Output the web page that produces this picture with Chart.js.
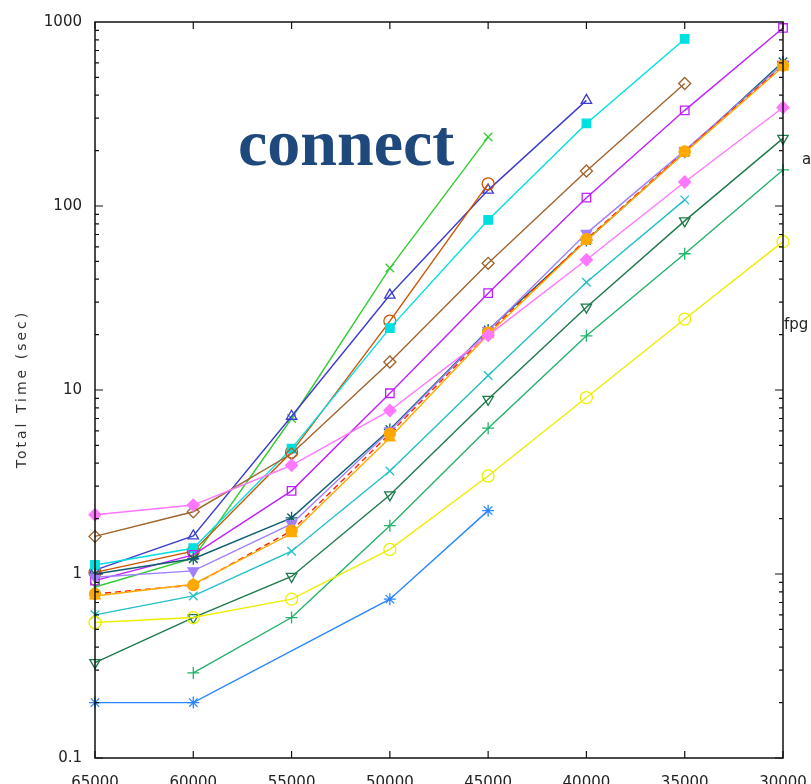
<!DOCTYPE html>
<html>
<head>
<meta charset="utf-8">
<script src="https://cdn.jsdelivr.net/npm/chart.js@4/dist/chart.umd.min.js"></script>
<style>
  html, body { margin: 0; padding: 0; background: #fff; overflow: hidden; }
  #wrap { width: 830px; height: 800px; }
</style>
</head>
<body>
<div id="wrap"><canvas id="grafico" width="830" height="800"></canvas></div>
<script>
const categorias = ["65000", "60000", "55000", "50000", "45000", "40000", "35000", "30000"];
const marcasY = [0.1, 1, 10, 100, 1000];

const verdeX = [0.85, 1.22, 7.0, 46, 237, null, null, null];
const azulTriangulo = [1.05, 1.61, 7.2, 32.8, 122, 375, null, null];
const laranjaSol = [1.02, 1.33, 4.6, 23.7, 132, null, null, null];
const cianoQuadrado = [1.12, 1.38, 4.8, 21.7, 84, 281, 809, null];
const marromLosango = [1.6, 2.18, 4.5, 14.2, 48.8, 155, 463, null];
const magentaQuadrado = [0.92, 1.27, 2.83, 9.6, 33.6, 111, 331, 928];
const tealEstrela = [1.0, 1.21, 2.02, 6.1, 21.2, 65, 196, 608];
const lilas = [0.96, 1.04, 1.87, 6.0, 21, 71, 200, 590];
const vermelho = [0.78, 0.87, 1.72, 5.8, 20.5, 66, 198, 580];
const laranja = [0.76, 0.88, 1.66, 5.5, 20, 65, 195, 571];
const rosa = [2.1, 2.37, 3.9, 7.74, 19.8, 51, 135, 343];
const tealX = [0.6, 0.76, 1.33, 3.63, 12, 38.5, 108, null];
const verdeEscuro = [0.33, 0.58, 0.97, 2.69, 8.9, 28.2, 83, 233];
const verdeMais = [null, 0.29, 0.58, 1.83, 6.2, 19.7, 55, 157];
const amarelo = [0.545, 0.58, 0.73, 1.36, 3.41, 9.1, 24.3, 64];
const azulEstrela = [0.2, 0.2, null, 0.73, 2.21, null, null, null];

function serie(dados, cor, estilo, preenchido, extra) {
  return Object.assign({
    data: dados,
    borderColor: cor,
    borderWidth: 1.4,
    pointStyle: estilo,
    pointRadius: 6,
    pointBorderWidth: 1.3,
    pointBorderColor: cor,
    pointBackgroundColor: preenchido ? cor : "rgba(255,255,255,0)",
    tension: 0,
    spanGaps: true,
    fill: false,
  }, extra || {});
}

const moldura = {
  id: "moldura",
  afterDraw(chart) {
    const ctx = chart.ctx;
    const a = chart.chartArea;
    const x = chart.scales.x;
    const y = chart.scales.y;
    ctx.save();
    ctx.strokeStyle = "#111";
    ctx.lineWidth = 1.5;
    ctx.strokeRect(a.left, a.top, a.right - a.left, a.bottom - a.top);
    ctx.lineWidth = 1.2;
    ctx.beginPath();
    categorias.forEach((c, i) => {
      const px = x.getPixelForValue(i);
      ctx.moveTo(px, a.bottom); ctx.lineTo(px, a.bottom - 7);
      ctx.moveTo(px, a.top); ctx.lineTo(px, a.top + 7);
    });
    for (let d = 0.1; d < 1000; d *= 10) {
      for (let k = 1; k <= 9; k++) {
        const v = d * k;
        const py = y.getPixelForValue(v);
        const len = k === 1 ? 8 : 4;
        ctx.moveTo(a.left, py); ctx.lineTo(a.left + len, py);
        ctx.moveTo(a.right, py); ctx.lineTo(a.right - len, py);
      }
    }
    ctx.stroke();

    // titulo dentro do grafico
    ctx.fillStyle = "#1f497d";
    ctx.font = 'bold 66px "Liberation Serif"';
    ctx.textAlign = "left";
    ctx.textBaseline = "alphabetic";
    ctx.fillText("connect", 238, 165);

    // rotulo do eixo y
    ctx.fillStyle = "#333";
    ctx.font = '14px "DejaVu Sans"';
    ctx.translate(22, 389);
    ctx.rotate(-Math.PI / 2);
    ctx.textAlign = "center";
    ctx.textBaseline = "middle";
    ctx.letterSpacing = "3px";
    ctx.fillText("Total Time (sec)", 0, 0);
    ctx.setTransform(1, 0, 0, 1, 0, 0);
    ctx.letterSpacing = "0px";

    // rotulos da legenda cortados a direita
    ctx.fillStyle = "#222";
    ctx.font = '15px "DejaVu Sans"';
    ctx.textAlign = "left";
    ctx.textBaseline = "middle";
    ctx.fillText("a", 802, 160);
    ctx.fillText("fpg", 784, 325);
    ctx.restore();
  },
};

const ctx = document.getElementById("grafico").getContext("2d");
const meuGrafico = new Chart(ctx, {
  type: "line",
  data: {
    labels: categorias,
    datasets: [
      serie(azulEstrela, "#2a86ff", "star", false),
      serie(amarelo, "#eeee00", "circle", false),
      serie(verdeMais, "#22b36b", "cross", false),
      serie(verdeEscuro, "#1e7a4a", "triangle", false, { pointRotation: 180 }),
      serie(tealX, "#22c0c8", "crossRot", false),
      serie(rosa, "#ff77ff", "rectRot", true),
      serie(laranja, "#ffaa00", "triangle", true),
      serie(vermelho, "#ff2200", "circle", true, { borderDash: [6, 4], pointBackgroundColor: "#ffa500", pointBorderColor: "#ffa500", pointRadius: 5.5 }),
      serie(lilas, "#a080ff", "triangle", true, { pointRotation: 180 }),
      serie(tealEstrela, "#0f5f70", "star", false),
      serie(magentaQuadrado, "#c020ff", "rect", false),
      serie(marromLosango, "#a0642d", "rectRot", false),
      serie(cianoQuadrado, "#00e0e0", "rect", true),
      serie(laranjaSol, "#cc5500", "circle", false),
      serie(azulTriangulo, "#3c3cd0", "triangle", false),
      serie(verdeX, "#33cc33", "crossRot", false),
    ],
  },
  options: {
    responsive: false,
    animation: false,
    layout: { padding: { top: 17, right: 47, left: 0, bottom: 0 } },
    plugins: { legend: { display: false }, tooltip: { enabled: false } },
    scales: {
      x: {
        type: "category",
        offset: false,
        grid: { display: false, drawTicks: false },
        border: { display: false },
        ticks: {
          padding: 16,
          color: "#222",
          font: { family: "DejaVu Sans", size: 15 },
          maxRotation: 0,
          autoSkip: false,
        },
        afterFit(scale) { scale.height = 42; },
      },
      y: {
        type: "logarithmic",
        min: 0.1,
        max: 1000,
        grid: { display: false, drawTicks: false },
        border: { display: false },
        afterBuildTicks(scale) {
          scale.ticks = marcasY.map((v) => ({ value: v }));
        },
        ticks: {
          padding: 13,
          color: "#222",
          font: { family: "DejaVu Sans", size: 15 },
          callback: (v) => String(v),
        },
        afterFit(scale) { scale.width = 95; },
      },
    },
  },
  plugins: [moldura],
});
</script>
</body>
</html>
